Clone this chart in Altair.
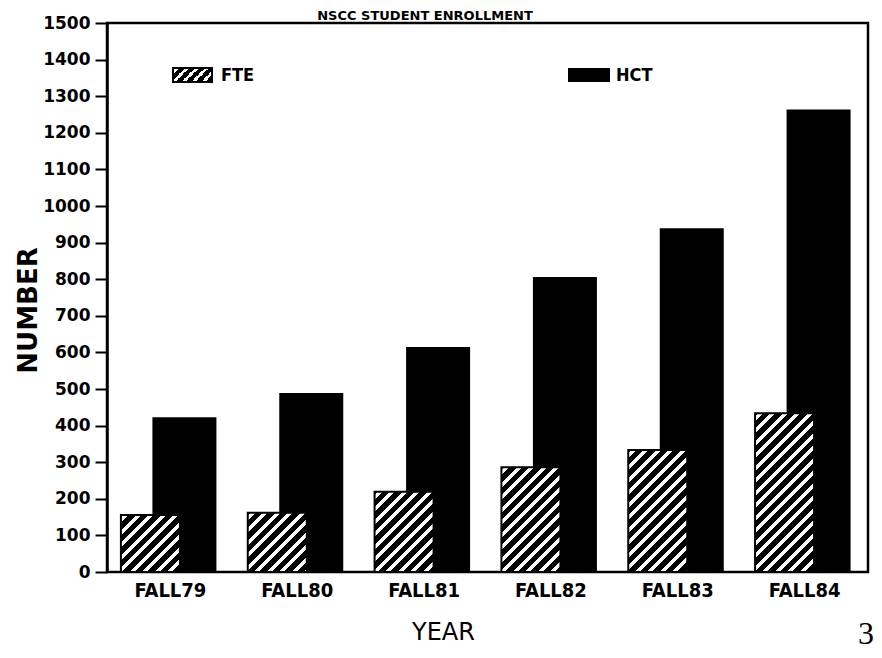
import altair as alt
import pandas as pd

# ---- data ----
years = ["FALL79", "FALL80", "FALL81", "FALL82", "FALL83", "FALL84"]
fte = [156, 162, 219, 286, 333, 434]
hct = [423, 489, 615, 806, 939, 1264]
y_ticks = list(range(0, 1501, 100))
title_text = "NSCC STUDENT ENROLLMENT"
legend_labels = ["FTE", "HCT"]
page_label = "3"

# ---- layout constants ----
W, H = 761, 549
YMAX = 1500
FTE_W, HCT_W = 59, 64


def hatch(w, h, period=12.5, white=5.0, phase=3.0):
    """Linear gradient with hard stops giving 45-degree '/' white stripes."""
    L = w + h
    d = w * w + h * h
    stops = [{"offset": 0, "color": "black"}]
    k = 0
    last = "black"
    while True:
        a = (phase + k * period) / L
        b = (phase + k * period + white) / L
        if a >= 1:
            break
        stops.append({"offset": a, "color": "black"})
        stops.append({"offset": a, "color": "white"})
        if b < 1:
            stops.append({"offset": b, "color": "white"})
            stops.append({"offset": b, "color": "black"})
            last = "black"
        else:
            stops.append({"offset": 1, "color": "white"})
            last = "white"
        k += 1
    if last == "black":
        stops.append({"offset": 1, "color": "black"})
    return {"gradient": "linear", "x1": 0, "y1": 0,
            "x2": L * w / d, "y2": L * h / d, "stops": stops}


df = pd.DataFrame({"year": years, "fte": fte, "hct": hct})
df["hatch"] = [hatch(FTE_W, v * H / YMAX) for v in fte]

NARROW = "Liberation Sans Narrow, DejaVu Sans Condensed, sans-serif"

x_axis = alt.Axis(
    title="YEAR", labelAngle=0,
    labelFont=NARROW,
    labelFontSize=20, labelFontWeight="bold", labelColor="black",
    labelPadding=8, ticks=False, domain=False, grid=False,
    titleFont="DejaVu Sans", titleFontSize=24, titleFontWeight="normal",
    titleColor="black", titleX=336, titleY=48, titleBaseline="top",
    titleAlign="center",
)
y_axis = alt.Axis(
    title="NUMBER", values=y_ticks, format="d",
    labelFont="DejaVu Sans", labelFontSize=17, labelFontWeight="bold",
    labelColor="black", labelPadding=5,
    tickSize=12, tickWidth=2, tickColor="black",
    domain=True, domainColor="black", domainWidth=2.5, grid=False,
    titleFont="DejaVu Sans", titleFontSize=26, titleFontWeight="bold",
    titleColor="black", titleX=-66, titleY=287, titleBaseline="bottom",
    titleAngle=270,
)
x_enc = alt.X("year:N", sort=years, axis=x_axis,
              scale=alt.Scale(paddingInner=0, paddingOuter=0))
y_scale = alt.Scale(domain=[0, YMAX], nice=False, zero=True)

base = alt.Chart(df)

hct_bars = base.mark_bar(width=HCT_W, xOffset=14, color="black").encode(
    x=x_enc,
    y=alt.Y("hct:Q", scale=y_scale, axis=y_axis),
)

fte_bars = base.mark_bar(width=FTE_W, xOffset=-20, stroke="black",
                         strokeWidth=2).encode(
    x=x_enc,
    y=alt.Y("fte:Q", scale=y_scale, axis=y_axis),
    fill=alt.Fill("hatch:N", scale=None),
)

one = pd.DataFrame({"k": [0]})

leg_fte_box = alt.Chart(one).mark_rect(
    fill=hatch(39, 14, period=10, white=4, phase=2), stroke="black", strokeWidth=2
).encode(x=alt.value(66), x2=alt.value(105), y=alt.value(45), y2=alt.value(59))
leg_fte_txt = alt.Chart(one).mark_text(
    text=legend_labels[0], align="left", baseline="middle",
    font=NARROW, fontSize=18, fontWeight="bold", color="black",
).encode(x=alt.value(114), y=alt.value(53))

leg_hct_box = alt.Chart(one).mark_rect(color="black").encode(
    x=alt.value(461), x2=alt.value(503), y=alt.value(45), y2=alt.value(59))
leg_hct_txt = alt.Chart(one).mark_text(
    text=legend_labels[1], align="left", baseline="middle",
    font=NARROW, fontSize=18, fontWeight="bold", color="black",
).encode(x=alt.value(509), y=alt.value(53))

title_mark = alt.Chart(one).mark_text(
    text=title_text, align="center", baseline="alphabetic",
    font="DejaVu Sans", fontSize=13, fontWeight="bold", color="black",
).encode(x=alt.value(318), y=alt.value(-3))

page_mark = alt.Chart(one).mark_text(
    text=page_label, align="center", baseline="top",
    font="Liberation Serif", fontSize=32, color="black",
).encode(x=alt.value(759), y=alt.value(596))

chart = alt.layer(
    hct_bars, fte_bars, leg_fte_box, leg_fte_txt, leg_hct_box, leg_hct_txt,
    title_mark, page_mark,
).properties(
    width=W, height=H,
    padding={"left": 99, "top": 15, "right": 6, "bottom": 78},
    autosize=alt.AutoSizeParams(type="none"),
    background="white",
).configure_view(stroke="black", strokeWidth=2.5)

chart.save("out.html", embed_options={"renderer": "svg", "actions": False})
